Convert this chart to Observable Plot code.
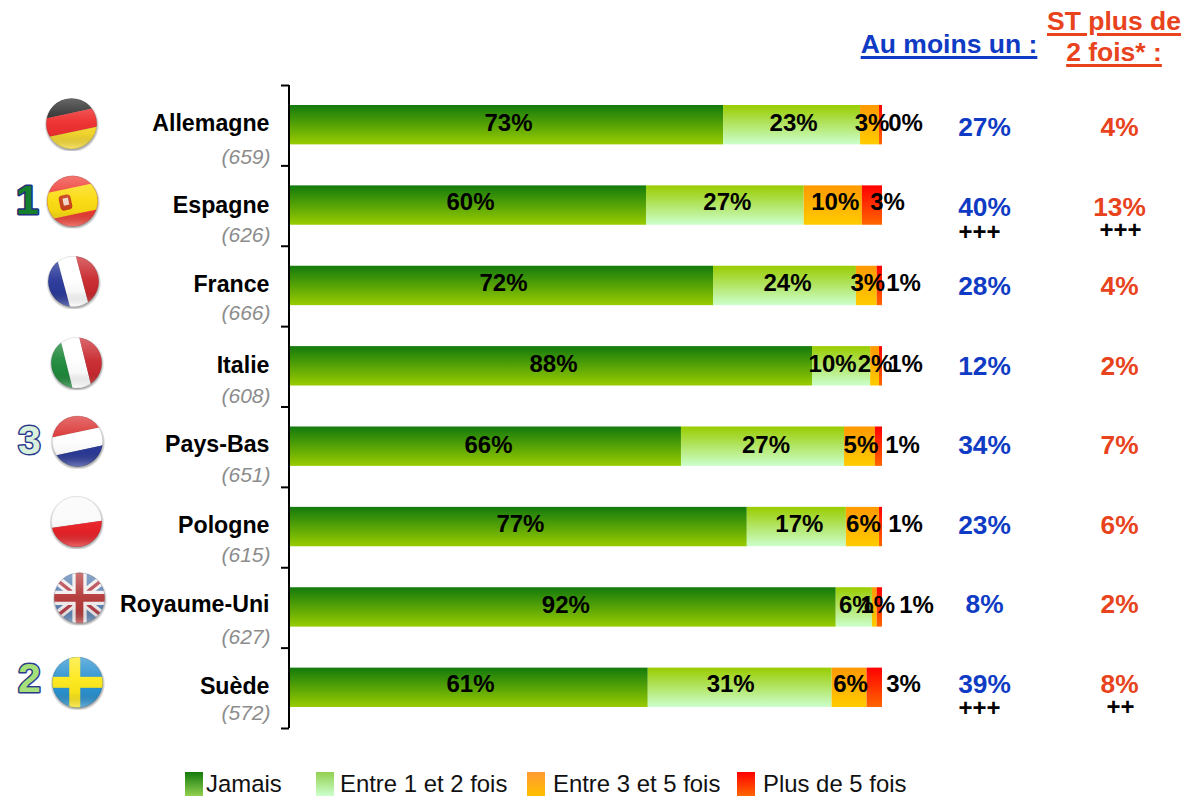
<!DOCTYPE html>
<html lang="fr">
<head>
<meta charset="utf-8">
<script src="https://cdn.jsdelivr.net/npm/d3@7"></script>
<script src="https://cdn.jsdelivr.net/npm/@observablehq/plot@0.6"></script>
<style>
html,body{margin:0;padding:0;background:#fff;width:1186px;height:796px;overflow:hidden;font-family:"Liberation Sans",Arial,sans-serif}
#chart{position:absolute;left:0;top:0}
#legend{position:absolute;left:0;top:772px;height:24px;width:1186px}
.item{position:absolute;top:0;font-size:23.9px;line-height:24px;color:#111;white-space:nowrap}
.sw{position:absolute;top:0;width:18px;height:24px}
.head{position:absolute;text-align:center;font-weight:700;font-size:26.5px;line-height:31px;text-decoration:underline;text-decoration-thickness:3px;text-underline-offset:3px;white-space:nowrap}
</style>
</head>
<body>
<div class="head" style="left:860px;top:29px;width:178px;color:#0f3bc4">Au moins un :</div>
<div class="head" style="left:1039px;top:6px;width:150px;color:#e8431c">ST plus de<br>2 fois* :</div>
<div id="chart"></div>
<div id="legend"></div>
<script>
// ---- Data ----
const countries = ["Allemagne","Espagne","France","Italie","Pays-Bas","Pologne","Royaume-Uni","Suède"];
const samples   = ["(659)","(626)","(666)","(608)","(651)","(615)","(627)","(572)"];
const series    = ["Jamais","Entre 1 et 2 fois","Entre 3 et 5 fois","Plus de 5 fois"];
const jamais    = [73.2,60.2,71.5,88.2,66.1,77.2,92.2,60.5];
const entre12   = [23.1,26.6,24.1, 9.8,27.5,16.7, 6.1,31.0];
const entre35   = [ 3.2, 9.8, 3.5, 1.5, 5.2, 5.6, 0.8, 5.9];
const plus5     = [ 0.5, 3.4, 0.9, 0.5, 1.2, 0.5, 0.9, 2.6];
const labJamais = ["73%","60%","72%","88%","66%","77%","92%","61%"];
const lab12     = ["23%","27%","24%","10%","27%","17%","6%","31%"];
const lab35     = ["3%","10%","3%","2%","5%","6%","1%","6%"];
const labPlus5  = ["0%","3%","1%","1%","1%","1%","1%","3%"];
const auMoinsUn = ["27%","40%","28%","12%","34%","23%","8%","39%"];
const stPlus2   = ["4%","13%","4%","2%","7%","6%","2%","8%"];
const sigAu     = ["","+++","","","","","","+++"];
const sigSt     = ["","+++","","","","","","++"];
const ranks     = [["Espagne","1"],["Pays-Bas","3"],["Suède","2"]];

// ---- Styles and layout nudges (pixels) ----
const gradients = [["#137a0c","#99cc00"],["#99cc00","#ccffcc"],["#ff9900","#ffcc00"],["#ff0000","#ff6600"]];
const legendGradients = [["#137a0c","#92d050"],["#92d050","#ccffcc"],["#ff9933","#ffc000"],["#ff0000","#ff6600"]];
const legendX = [[185,206],[316,340],[527,553],[737,763]];
const blue = "#0f3bc4", red = "#e8431c";
const labelNudge = [
  [2,2.5,2,2.5,3,2,3,1.6],
  [1.5,2,2.5,-9,3,2.5,2,-9.5],
  [2,2,1,0,1,0.5,3,1]
];
const lastLabelDx = [23,5,21,23,20,23,34,21];
const rowDy = [-2,-3.5,-3,-3,-2,-3,-2.5,-4];
const countryDy = [-2,-1,-2,-1,-3,-2,-3,-2];
const sampleDy = [32,29,27,29,28,28,29,25];
const colDy = [2,2,0,0,-2,-2,-3,-4];
const sigAuDy = [0,26,0,0,0,0,0,20];
const sigStDy = [0,24,0,0,0,0,0,19];
const flagDx = [-218,-217,-216,-213,-212,-213,-210,-212];
const flagDy = [-2,-5,-5,-4,-6,-6,-10,-6];
const rankStyle = {"1":["#157f2e","#1f2f80",-262,-5],"3":["#d8f0dc","#2c3a8c",-260,-6],"2":["#a6e07a","#2c3a8c",-260,-9]};

// ---- Flags ----
function flagSvg(body){
  const svg = `<svg xmlns="http://www.w3.org/2000/svg" viewBox="0 0 100 100" width="100" height="100">
  <defs>
  <clipPath id="c"><circle cx="50" cy="50" r="46"/></clipPath>
  <radialGradient id="s"><stop offset="84%" stop-color="#000" stop-opacity=".5"/><stop offset="100%" stop-color="#000" stop-opacity="0"/></radialGradient>
  <linearGradient id="g" x1="0" y1="0" x2="0" y2="1"><stop offset="0" stop-color="#fff" stop-opacity=".3"/><stop offset=".45" stop-color="#fff" stop-opacity=".04"/><stop offset=".7" stop-color="#000" stop-opacity=".03"/><stop offset="1" stop-color="#fff" stop-opacity=".32"/></linearGradient>
  </defs>
  <circle cx="50.5" cy="52.5" r="50" fill="url(#s)"/>
  <g clip-path="url(#c)">${body}<circle cx="50" cy="50" r="46" fill="url(#g)"/></g>
  <circle cx="50" cy="50" r="45.5" fill="none" stroke="#000" stroke-opacity=".12"/>
  </svg>`;
  return "data:image/svg+xml;charset=utf-8," + encodeURIComponent(svg);
}
const flagBodies = [
  `<g transform="rotate(-12 50 50)"><rect x="-20" y="-20" width="140" height="51" fill="#262626"/><rect x="-20" y="31" width="140" height="34" fill="#ee2e2e"/><rect x="-20" y="65" width="140" height="60" fill="#f7da2e"/></g>`,
  `<g transform="rotate(-12 50 50)"><rect x="-20" y="-20" width="140" height="140" fill="#ee3b33"/><rect x="-20" y="26" width="140" height="48" fill="#fbdc11"/><rect x="26" y="36" width="22" height="28" rx="7" fill="#c8431b"/><rect x="33" y="42" width="10" height="13" fill="#f2d8c8"/></g>`,
  `<g transform="rotate(-15 50 50)"><rect x="-20" y="-20" width="52" height="140" fill="#2b3a9a"/><rect x="32" y="-20" width="34" height="140" fill="#ffffff"/><rect x="66" y="-20" width="55" height="140" fill="#c8282d"/></g>`,
  `<g transform="rotate(-14 50 50)"><rect x="-20" y="-20" width="52" height="140" fill="#1f8a3c"/><rect x="32" y="-20" width="34" height="140" fill="#ffffff"/><rect x="66" y="-20" width="55" height="140" fill="#c92a30"/></g>`,
  `<g transform="rotate(-12 50 50)"><rect x="-20" y="-20" width="140" height="54" fill="#d9302f"/><rect x="-20" y="34" width="140" height="33" fill="#ffffff"/><rect x="-20" y="67" width="140" height="60" fill="#2b3a9a"/></g>`,
  `<g transform="rotate(-8 50 50)"><rect x="-20" y="-20" width="140" height="75" fill="#fafafa"/><rect x="-20" y="55" width="140" height="70" fill="#ea2328"/></g>`,
  `<rect width="100" height="100" fill="#5d84b5"/><g stroke="#f3eeee" stroke-width="17"><path d="M0 10L100 90M0 90L100 10"/></g><g stroke="#b5404a" stroke-width="6"><path d="M0 10L100 90M0 90L100 10"/></g><g stroke="#f3eeee" stroke-width="26"><path d="M50 0V100M0 50H100"/></g><g stroke="#b53a3a" stroke-width="14"><path d="M50 0V100M0 50H100"/></g>`,
  `<rect width="100" height="100" fill="#2b92d0"/><rect x="35" y="0" width="20" height="100" fill="#fde81a"/><rect x="0" y="40" width="100" height="20" fill="#fde81a"/>`
];
const flagUris = flagBodies.map(flagSvg);

// ---- Tables ----
const values = [jamais,entre12,entre35,plus5];
const labels = [labJamais,lab12,lab35,labPlus5];
const rows = series.flatMap((s,j)=>countries.map((c,i)=>({country:c,series:s,value:values[j][i]})));
const rowStep = (796-25-85-43)/countries.length;

const labelMarks = [];
countries.forEach((c,i)=>{
  let cum = 0;
  series.forEach((s,j)=>{
    const v = values[j][i];
    const pos = j===3 ? 100 : cum + v/2;
    cum += v;
    labelMarks.push(Plot.text([{x:pos,y:c,t:labels[j][i]}],{
      x:"x", y:"y", text:"t",
      dx: j===3 ? lastLabelDx[i] : labelNudge[j][i],
      dy: rowDy[i],
      fontSize: 24, fontWeight: 700, fill:"#000"
    }));
  });
});

const defs = () => {
  const NS = "http://www.w3.org/2000/svg";
  const el = document.createElementNS(NS,"defs");
  gradients.forEach((g,i)=>{
    const lg = document.createElementNS(NS,"linearGradient");
    lg.setAttribute("id","grad"+i);
    lg.setAttribute("x1","0");lg.setAttribute("y1","0");lg.setAttribute("x2","0");lg.setAttribute("y2","1");
    g.forEach((col,k)=>{
      const st = document.createElementNS(NS,"stop");
      st.setAttribute("offset",k);st.setAttribute("stop-color",col);lg.appendChild(st);
    });
    el.appendChild(lg);
  });
  return el;
};

const anchored = (x,c,t)=>[{x,y:c,t}];

const chart = Plot.plot({
  width:1186, height:771,
  marginTop:85, marginBottom:43, marginLeft:289, marginRight:304,
  style:{fontFamily:"'Liberation Sans',Arial,sans-serif",background:"transparent",overflow:"visible"},
  x:{domain:[0,100],axis:null},
  y:{type:"band",domain:countries,paddingInner:0.51,paddingOuter:0.255,round:false,axis:null},
  color:{domain:series,range:series.map((s,i)=>`url(#grad${i})`)},
  marks:[
    defs,
    Plot.barX(rows,Plot.stackX({x:"value",y:"country",fill:"series",order:series,dy:-0.5})),
    // bracket axis
    Plot.ruleX([0],{stroke:"#000",strokeWidth:2,dx:-0.5}),
    Plot.ruleY(countries,{y:d=>d,x1:()=>0,x2:()=>0,insetLeft:-8,dy:-rowStep/2,stroke:"#000",strokeWidth:2}),
    Plot.ruleY(countries.slice(-1),{y:d=>d,x1:()=>0,x2:()=>0,insetLeft:-8,dy:rowStep/2,stroke:"#000",strokeWidth:2}),
    ...labelMarks,
    // country names and samples
    ...countries.map((c,i)=>Plot.text(anchored(0,c,c),{x:"x",y:"y",text:"t",textAnchor:"end",dx:-20,dy:countryDy[i],fontSize:23.2,fontWeight:700,fill:"#000"})),
    ...countries.map((c,i)=>Plot.text(anchored(0,c,samples[i]),{x:"x",y:"y",text:"t",textAnchor:"end",dx:-19,dy:sampleDy[i],fontSize:21,fontStyle:"italic",fill:"#8c8c8c"})),
    // right-hand columns
    ...countries.map((c,i)=>Plot.text(anchored(100,c,auMoinsUn[i]),{x:"x",y:"y",text:"t",dx:102,dy:colDy[i],fontSize:26.3,fontWeight:700,fill:blue})),
    ...countries.map((c,i)=>Plot.text(anchored(100,c,stPlus2[i]),{x:"x",y:"y",text:"t",dx:237,dy:colDy[i],fontSize:26.3,fontWeight:700,fill:red})),
    ...countries.map((c,i)=>Plot.text(anchored(100,c,sigAu[i]),{x:"x",y:"y",text:"t",dx:97,dy:sigAuDy[i],fontSize:24,fontWeight:700,fill:"#000"})),
    ...countries.map((c,i)=>Plot.text(anchored(100,c,sigSt[i]),{x:"x",y:"y",text:"t",dx:238,dy:sigStDy[i],fontSize:24,fontWeight:700,fill:"#000"})),
    // flags
    ...countries.map((c,i)=>Plot.image(anchored(0,c,""),{x:"x",y:"y",src:flagUris[i],width:55,height:55,dx:flagDx[i],dy:flagDy[i]})),
    // rank numbers
    ...ranks.map(([c,r])=>Plot.text(anchored(0,c,r),{x:"x",y:"y",text:"t",dx:rankStyle[r][2],dy:rankStyle[r][3],fontSize:41,fontWeight:700,fill:rankStyle[r][0],stroke:rankStyle[r][1],strokeWidth:3}))
  ]
});
document.getElementById("chart").appendChild(chart);

// ---- Legend ----
const legend = document.getElementById("legend");
series.forEach((s,i)=>{
  const sw = document.createElement("div");
  sw.className="sw";
  sw.style.left=legendX[i][0]+"px";
  sw.style.background=`linear-gradient(${legendGradients[i][0]},${legendGradients[i][1]})`;
  legend.appendChild(sw);
  const t = document.createElement("div");
  t.className="item";
  t.style.left=legendX[i][1]+"px";
  t.textContent=s;
  legend.appendChild(t);
});
</script>
</body>
</html>
